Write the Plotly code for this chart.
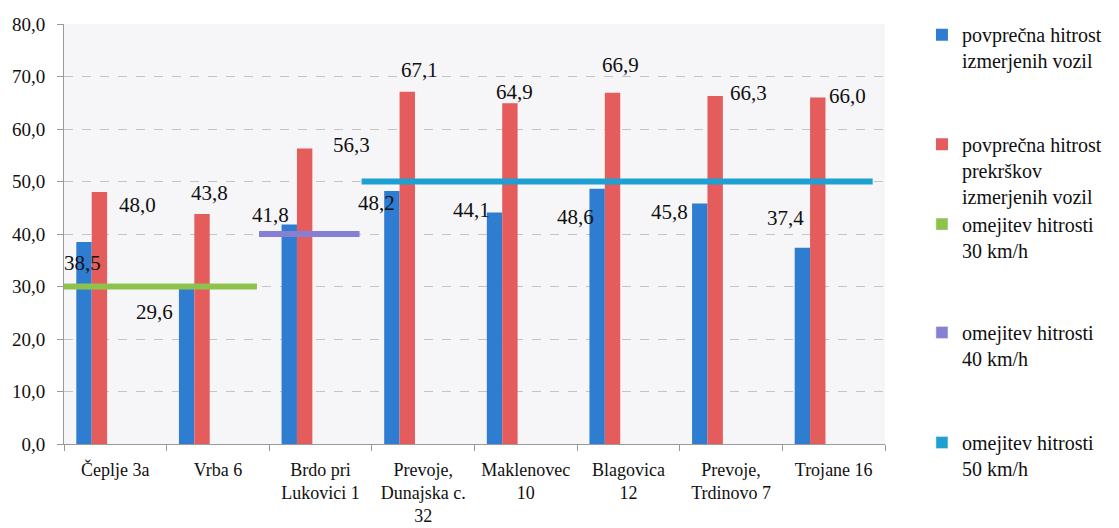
import plotly.graph_objects as go

# ---------------- data ----------------
categories = ["Čeplje 3a", "Vrba 6", "Brdo pri<br>Lukovici 1", "Prevoje,<br>Dunajska c.<br>32",
              "Maklenovec<br>10", "Blagovica<br>12", "Prevoje,<br>Trdinovo 7", "Trojane 16"]
avg_speed = [38.5, 29.6, 41.8, 48.2, 44.1, 48.6, 45.8, 37.4]
avg_offence_speed = [48.0, 43.8, 56.3, 67.1, 64.9, 66.9, 66.3, 66.0]
speed_limit = [30, 30, 40, 50, 50, 50, 50, 50]

name_avg = "povprečna hitrost<br>izmerjenih vozil"
name_off = "povprečna hitrost<br>prekrškov<br>izmerjenih vozil"
limit_names = {30: "omejitev hitrosti<br>30 km/h", 40: "omejitev hitrosti<br>40 km/h",
               50: "omejitev hitrosti<br>50 km/h"}

# ---------------- style ----------------
BLUE = "#2F7DD0"
RED = "#E45C5C"
LIMIT_COLORS = {30: "#8FC24C", 40: "#8580D2", 50: "#1FA0D2"}
FONT = "Liberation Serif"
TXT = "#101010"
BAR_W = 0.15
OFF_BLUE = -0.38
OFF_RED = -0.23
# pixel shifts of the hand-placed data labels (relative to bar top centre)
blue_dx = [-2, -32, -19, -15, -23, -22, -30, -17]
blue_dy = [21, 23, -10, 12, -2, 28, 8, -30]
red_dx = [38, 7, 47, 12, 5, 8, 33, 30]
red_dy = [13, -21, -3, -22, -11, -28, -3, -2]

idx = list(range(len(categories)))
fig = go.Figure()

fig.add_trace(go.Bar(x=idx, y=avg_speed, width=BAR_W, offset=OFF_BLUE, marker_color=BLUE,
                     marker_line_width=0, name=name_avg, legend="legend"))
fig.add_trace(go.Bar(x=idx, y=avg_offence_speed, width=BAR_W, offset=OFF_RED, marker_color=RED,
                     marker_line_width=0, name=name_off, legend="legend2"))

# limit lines, one per run of equal limits
runs = []
start = 0
for i in range(1, len(speed_limit) + 1):
    if i == len(speed_limit) or speed_limit[i] != speed_limit[start]:
        runs.append((start, i - 1, speed_limit[start]))
        start = i
legend_ids = {30: "legend3", 40: "legend4", 50: "legend5"}
for s, e, lim in runs:
    x0 = max(s - 0.6, -0.5)
    x1 = e + 0.38
    fig.add_trace(go.Scatter(x=[x0, x1], y=[lim, lim], mode="lines",
                             line=dict(color=LIMIT_COLORS[lim], width=6),
                             showlegend=False, hoverinfo="skip"))
    # legend entry with square symbol
    fig.add_trace(go.Bar(x=[None], y=[None], marker_color=LIMIT_COLORS[lim],
                         name=limit_names[lim], legend=legend_ids[lim]))

def fmt(v):
    return f"{v:.1f}".replace(".", ",")

for i in idx:
    fig.add_annotation(x=i + OFF_BLUE + BAR_W / 2, y=avg_speed[i], text=fmt(avg_speed[i]),
                       showarrow=False, xshift=blue_dx[i], yshift=-blue_dy[i],
                       font=dict(family=FONT, size=21, color=TXT))
    fig.add_annotation(x=i + OFF_RED + BAR_W / 2, y=avg_offence_speed[i], text=fmt(avg_offence_speed[i]),
                       showarrow=False, xshift=red_dx[i], yshift=-red_dy[i],
                       font=dict(family=FONT, size=21, color=TXT))

leg_common = dict(x=1.045, xanchor="left", yanchor="top", valign="top",
                  bgcolor="rgba(0,0,0,0)", font=dict(family=FONT, size=20, color=TXT),
                  itemclick=False, tracegroupgap=0)
# the page body adds an 8 px margin, so the figure is 8 px smaller and shifted
fig.update_layout(
    width=1111, height=520,
    margin=dict(l=56, r=234, t=16, b=84, autoexpand=False),
    paper_bgcolor="white", plot_bgcolor="#F6F6F8",
    barmode="overlay",
    separators=",.",
    font=dict(family=FONT, size=20, color=TXT),
    legend=dict(y=1.021, **leg_common),
    legend2=dict(y=0.76, **leg_common),
    legend3=dict(y=0.57, **leg_common),
    legend4=dict(y=0.312, **leg_common),
    legend5=dict(y=0.05, **leg_common),
    xaxis=dict(range=[-0.5, 7.5], tickmode="array", tickvals=idx, ticktext=categories,
               ticks="", showgrid=False, zeroline=False,
               showline=True, linecolor="#9A9A9A", linewidth=1,
               ticklabelstandoff=9,
               tickfont=dict(family=FONT, size=18, color=TXT),
               minor=dict(tickmode="linear", tick0=-0.5, dtick=1, ticks="outside",
                          ticklen=6, tickcolor="#9A9A9A", showgrid=False)),
    yaxis=dict(range=[0, 80], dtick=10, tickformat=".1f", showgrid=True,
               gridcolor="#C4C4C4", griddash="dash", gridwidth=1, zeroline=False,
               showline=True, linecolor="#9A9A9A", linewidth=1,
               ticks="outside", ticklen=6, tickcolor="#9A9A9A", ticklabelstandoff=8,
               tickfont=dict(family=FONT, size=19, color=TXT)),
)

fig.write_html("out.html")
